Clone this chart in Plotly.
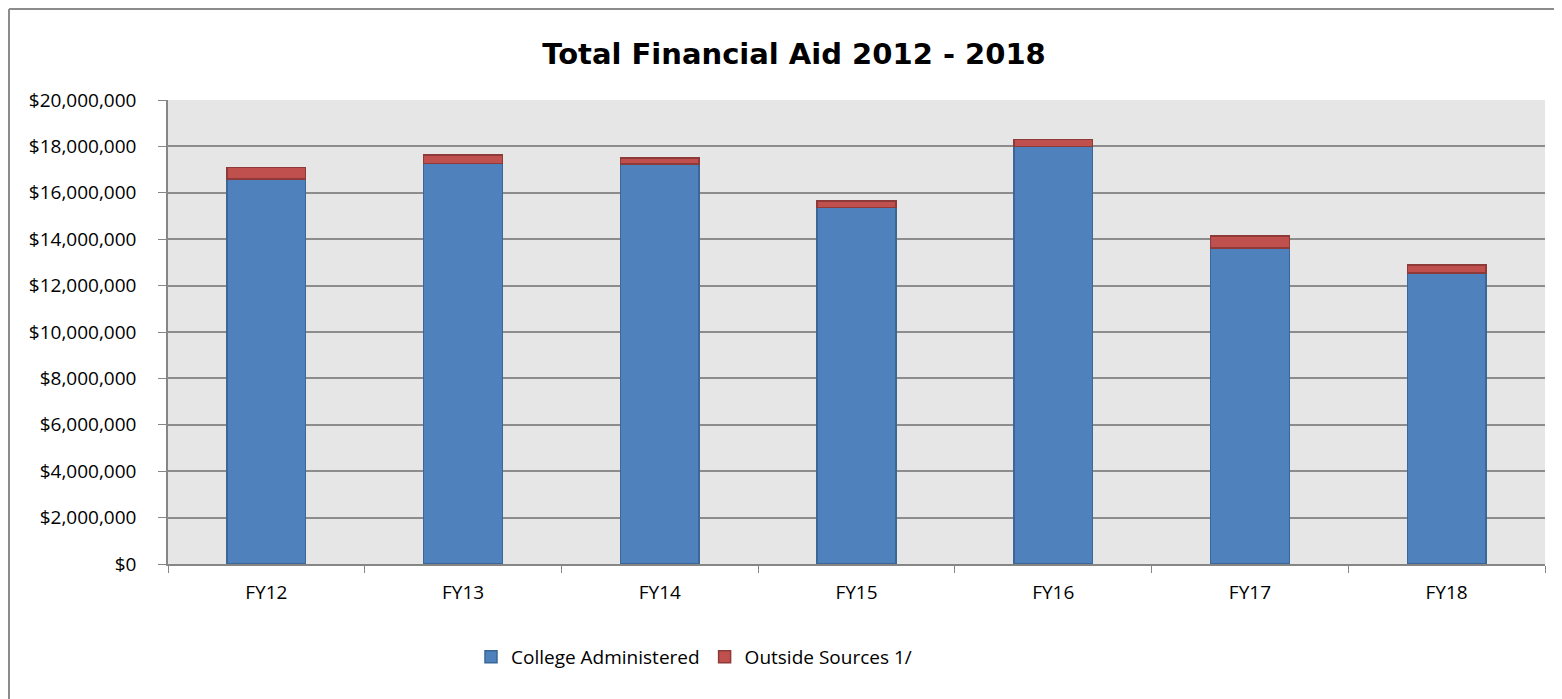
import plotly.graph_objects as go

categories = ["FY12", "FY13", "FY14", "FY15", "FY16", "FY17", "FY18"]
college_administered = [16590000, 17270000, 17250000, 15360000, 17990000, 13620000, 12540000]
outside_sources = [490000, 370000, 260000, 290000, 310000, 520000, 350000]
y_ticks = list(range(0, 20000001, 2000000))
y_tick_labels = ["${:,}".format(v) for v in y_ticks]

FONT = "'Open Sans', 'Noto Sans', sans-serif"
TITLE_FONT = "'DejaVu Sans', 'Open Sans', sans-serif"

# page body has an 8px margin; figure sized so the plot area lands at x 168-1545, y 100-564
W, H = 1554, 691
L, T, R = 160, 92, 17
PLOT_W = W - L - R
PLOT_H = 464
B = H - T - PLOT_H

def px_x(p):
    return (p - 168) / PLOT_W

def px_y(p):
    return (564 - p) / PLOT_H

fig = go.Figure()
fig.add_trace(go.Bar(
    x=categories, y=college_administered, name="College Administered",
    marker=dict(color="#4F81BD", line=dict(color="#3A6796", width=1.5)),
))
fig.add_trace(go.Bar(
    x=categories, y=outside_sources, name="Outside Sources 1/",
    marker=dict(color="#C0504D", line=dict(color="#8E3A38", width=1.5)),
))

fig.update_layout(
    barmode="stack",
    bargap=0.6,
    width=W, height=H,
    margin=dict(l=L, r=R, t=T, b=B),
    paper_bgcolor="white",
    plot_bgcolor="#E6E6E6",
    font=dict(family=FONT, size=19, color="#000000"),
    title=dict(text="<b>Total Financial Aid 2012 - 2018</b>", x=(794 - 8) / W, xanchor="center",
               y=1 - (54 - 8) / H, yanchor="middle", font=dict(size=29, family=TITLE_FONT, color="#000000")),
    legend=dict(orientation="h", x=px_x(694), xanchor="center",
                y=px_y(657), yanchor="middle",
                font=dict(size=19, family=FONT), traceorder="normal",
                bgcolor="rgba(0,0,0,0)"),
    showlegend=True,
)
fig.update_xaxes(
    type="category", tickson="boundaries", ticks="outside", ticklen=7, tickcolor="#868686",
    showline=True, linecolor="#868686", linewidth=1.5, showgrid=False,
    ticklabelstandoff=10,
    tickfont=dict(size=19, family=FONT, color="#000000"),
)
fig.update_yaxes(
    range=[0, 20000000], tickvals=y_ticks, ticktext=y_tick_labels,
    ticks="outside", ticklen=8, tickcolor="#868686",
    showline=True, linecolor="#868686", linewidth=1.5,
    showgrid=True, gridcolor="#8C8C8C", gridwidth=1.5, zeroline=False,
    ticklabelstandoff=18,
    tickfont=dict(size=19, family=FONT, color="#000000"),
)
# outer chart border (only top and left edges visible in the reference crop)
fig.add_shape(type="line", xref="paper", yref="paper",
              x0=px_x(9), x1=px_x(1570), y0=px_y(9), y1=px_y(9),
              line=dict(color="#8C8C8C", width=2), layer="below")
fig.add_shape(type="line", xref="paper", yref="paper",
              x0=px_x(9), x1=px_x(9), y0=px_y(9), y1=px_y(710),
              line=dict(color="#8C8C8C", width=2), layer="below")

fig.write_html("out.html")
